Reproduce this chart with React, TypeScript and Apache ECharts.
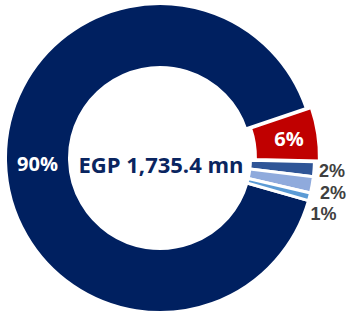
import React, { useEffect, useRef } from "react";
import * as echarts from "echarts";

const categories = ["Segment A", "Segment B", "Segment C", "Segment D", "Segment E"];
const values = [1567.9, 97.2, 26.9, 29.5, 13.9];
const colors = ["#002060", "#C00000", "#2F5597", "#8FAADC", "#5B9BD5"];
const labelOffsets = [[3, 2], [-5, 3], [-2, 2], [1, 8], [-6, 17]];
const centerText = "EGP 1,735.4 mn";

export default function App() {
  const ref = useRef<HTMLDivElement>(null);
  useEffect(() => {
    document.body.style.margin = "0";
    const chart = echarts.init(ref.current!, null, { renderer: "svg" });
    const total = values.reduce((a, b) => a + b, 0);
    const pct = (v: number) => Math.round((v / total) * 100) + "%";
    const font = "'Open Sans', sans-serif";
    const sideFont = "'Liberation Sans', Arial, sans-serif";
    const data = categories.map((name, i) => {
      const inside = i < 2;
      return {
        name,
        value: values[i],
        selected: i === 1,
        itemStyle: { color: colors[i] },
        label: inside
          ? { position: "inside", color: "#ffffff", fontSize: 20, fontWeight: "bold", fontFamily: font, offset: labelOffsets[i] }
          : { position: "outside", color: "#404040", fontSize: 18, lineHeight: 18, fontWeight: "bold", fontFamily: sideFont, offset: labelOffsets[i] },
        labelLine: { show: false, length: 2, length2: 0 },
      };
    });
    chart.setOption({
      animation: false,
      graphic: [
        {
          type: "text",
          style: {
            text: centerText,
            x: 161,
            y: 164,
            align: "center",
            verticalAlign: "middle",
            fill: "#0A2560",
            font: `bold 22px ${font}`,
          },
        },
      ],
      series: [
        {
          type: "pie",
          center: [160, 158],
          radius: [90.5, 154.5],
          startAngle: 344,
          clockwise: true,
          selectedMode: "single",
          selectedOffset: 5,
          avoidLabelOverlap: false,
          itemStyle: { borderColor: "#ffffff", borderWidth: 3 },
          emphasis: { disabled: true },
          label: {
            formatter: (p: any) => pct(p.value),
          },
          data,
        },
      ],
    });
    return () => chart.dispose();
  }, []);
  return <div ref={ref} style={{ width: 352, height: 314 }} />;
}
